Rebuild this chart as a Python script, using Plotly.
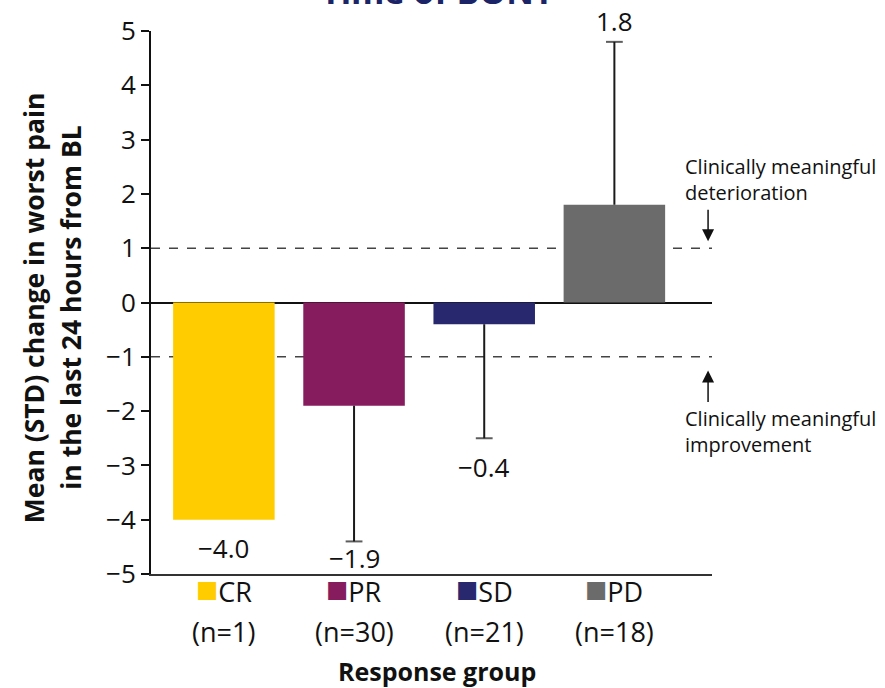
import plotly.graph_objects as go

# Response groups and their summary statistics
groups = ["CR", "PR", "SD", "PD"]
group_n = [1, 30, 21, 18]
means = [-4.0, -1.9, -0.4, 1.8]
stds = [0.0, 2.5, 2.1, 3.0]
bar_colors = ["#FFCC00", "#861C5E", "#28286E", "#6B6B6B"]

y_ticks = [-5, -4, -3, -2, -1, 0, 1, 2, 3, 4, 5]
thresholds = [1, -1]

FONT = "Open Sans"
INK = "#111"

fig = go.Figure()

fig.add_trace(go.Bar(
    x=groups, y=means, width=0.78,
    marker=dict(color=bar_colors, line=dict(width=0)),
    showlegend=False, hoverinfo="skip",
))

# One-sided error bars: drawn away from zero, capped at the far end
for g, m, s in zip(groups, means, stds):
    if s <= 0:
        continue
    end = m + s if m >= 0 else m - s
    fig.add_trace(go.Scatter(
        x=[g, g], y=[m, end], mode="lines+markers",
        line=dict(color="#1a1a1a", width=2),
        marker=dict(symbol="line-ew", size=[0, 12],
                    line=dict(width=2, color="#1a1a1a"), color="#1a1a1a"),
        showlegend=False, hoverinfo="skip", cliponaxis=False,
    ))

# Value labels at the outer end of each bar / error bar
label_shift = {"CR": -8, "PR": 3, "SD": -9, "PD": 1}
for g, m, s in zip(groups, means, stds):
    end = m + s if m >= 0 else m - s
    txt = f"{m:.1f}".replace("-", "\u2212")
    fig.add_annotation(
        x=g, y=end, text=txt, showarrow=False,
        yanchor="bottom" if m >= 0 else "top", yshift=label_shift[g],
        font=dict(family=FONT, size=26, color=INK),
    )

# Reference lines for clinically meaningful change
for t in thresholds:
    fig.add_shape(type="line", xref="paper", x0=0, x1=1, yref="y", y0=t, y1=t,
                  line=dict(color="#444", width=1.5, dash="dash"), layer="below")

# Category labels with colour keys and group sizes
for g, n, c in zip(groups, group_n, bar_colors):
    fig.add_annotation(
        x=g, xref="x", y=0, yref="paper", yanchor="middle", yshift=-13,
        text=f"<span style='color:{c};font-size:37px'>\u25A0</span>{g}",
        showarrow=False, font=dict(family=FONT, size=27, color=INK),
    )
    fig.add_annotation(
        x=g, xref="x", y=0, yref="paper", yanchor="middle", yshift=-57,
        text=f"(n={n})", showarrow=False,
        font=dict(family=FONT, size=27, color=INK),
    )

fig.add_annotation(
    x=0.51, xref="paper", y=0, yref="paper", yanchor="middle", yshift=-97,
    text="<b>Response group</b>", showarrow=False,
    font=dict(family=FONT, size=25, color=INK),
)

# Y-axis title, two rotated lines
y_title = ["Mean (STD) change in worst pain", "in the last 24 hours from BL"]
for line, xp in zip(y_title, [-0.207, -0.142]):
    fig.add_annotation(
        x=xp, xref="paper", xanchor="center", y=-0.09, yref="y", yanchor="middle",
        text=f"<b>{line}</b>", textangle=-90, showarrow=False,
        font=dict(family=FONT, size=26.5, color=INK),
    )

# Partly visible heading at the top
fig.add_annotation(
    x=0.51, xref="paper", y=1, yref="paper", yanchor="bottom", yshift=15,
    text="<b>Time of BONT</b>", showarrow=False,
    font=dict(family=FONT, size=34, color="#1B2466"),
)

# Threshold captions and arrows
fig.add_annotation(
    x=0.948, xref="paper", xanchor="left", y=2.27, yref="y", yanchor="middle",
    text="Clinically meaningful<br>deterioration", align="left", showarrow=False,
    font=dict(family=FONT, size=20, color=INK),
)
fig.add_annotation(
    x=0.948, xref="paper", xanchor="left", y=-2.38, yref="y", yanchor="middle",
    text="Clinically meaningful<br>improvement", align="left", showarrow=False,
    font=dict(family=FONT, size=20, color=INK),
)
fig.add_annotation(
    x=0.993, xref="paper", y=1.13, yref="y", text="", showarrow=True,
    ax=0, ay=-33, arrowhead=2, arrowsize=1.6, arrowwidth=1.5, arrowcolor=INK,
)
fig.add_annotation(
    x=0.993, xref="paper", y=-1.25, yref="y", text="", showarrow=True,
    ax=0, ay=33, arrowhead=2, arrowsize=1.6, arrowwidth=1.5, arrowcolor=INK,
)

fig.update_layout(
    width=885, height=688,
    margin=dict(l=151, r=173, t=24, b=114),
    paper_bgcolor="white", plot_bgcolor="white",
    font=dict(family=FONT, color=INK),
)
fig.update_xaxes(
    type="category", range=[-0.56, 3.75], showticklabels=False, ticks="",
    showline=True, linecolor="#333", linewidth=2, showgrid=False, zeroline=False,
)
fig.update_yaxes(
    range=[-5, 5], tickvals=y_ticks, ticks="outside", ticklen=8, tickwidth=2,
    tickcolor=INK, showline=True, linecolor=INK, linewidth=2,
    showgrid=False, zeroline=True, zerolinecolor=INK, zerolinewidth=2,
    tickfont=dict(family=FONT, size=26, color=INK),
)

fig.write_html("out.html")
